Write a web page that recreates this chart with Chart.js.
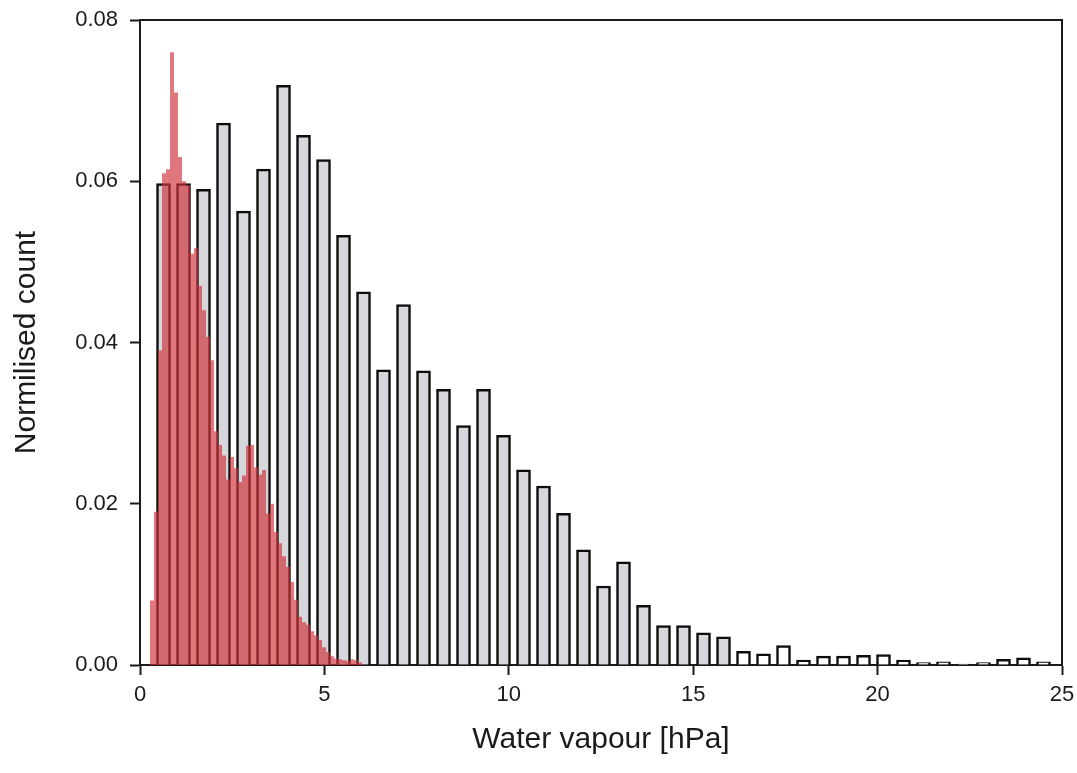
<!DOCTYPE html>
<html>
<head>
<meta charset="utf-8">
<script src="https://cdn.jsdelivr.net/npm/chart.js@4/dist/chart.umd.min.js"></script>
<style>
  body { margin: 0; background: #fff; }
  canvas { display: block; }
</style>
</head>
<body>
<canvas id="hist" width="1077" height="773"></canvas>
<script>
// gray histogram (wide bins)
const grayBinStart = 0.366;   // left edge of first bin [hPa]
const grayBinWidth = 0.5423;
const grayCounts = [
    0.0597, 0.0597, 0.0590, 0.0672, 0.0563, 0.0615, 0.0719, 0.0657, 0.0627, 0.0533,
    0.0463, 0.0366, 0.0447, 0.0365, 0.0342, 0.0297, 0.0342, 0.0285, 0.0242, 0.0222,
    0.0188, 0.0143, 0.0098, 0.0128, 0.0074, 0.0049, 0.0049, 0.0040, 0.0035, 0.0017,
    0.0014, 0.0024, 0.0006, 0.0011, 0.0011, 0.0012, 0.0013, 0.0006, 0.0003, 0.0004,
    0.0001, 0.0003, 0.0007, 0.0009, 0.0004
];

// red histogram (fine bins)
const redBinStart = 0.271;
const redBinWidth = 0.1085;
const redCounts = [
    0.0080, 0.0190, 0.0390, 0.0610, 0.0615, 0.0760, 0.0710, 0.0630, 0.0600, 0.0595,
    0.0510, 0.0517, 0.0470, 0.0440, 0.0407, 0.0378, 0.0290, 0.0273, 0.0260, 0.0230,
    0.0258, 0.0244, 0.0227, 0.0235, 0.0272, 0.0273, 0.0245, 0.0236, 0.0242, 0.0188,
    0.0200, 0.0165, 0.0151, 0.0135, 0.0122, 0.0103, 0.0081, 0.0060, 0.0053, 0.0050,
    0.0042, 0.0037, 0.0031, 0.0022, 0.0016, 0.0011, 0.0008, 0.0007, 0.0006, 0.0005,
    0.0007, 0.0006, 0.0003
];

const xTicks = [0, 5, 10, 15, 20, 25];
const yTicks = [0, 0.02, 0.04, 0.06, 0.08];

const grayPoints = grayCounts.map((y, i) => ({ x: grayBinStart + grayBinWidth * (i + 0.5), y: y }));
// short tail bars come out unfilled in the scan
const grayFill = grayCounts.map((y, i) => i >= 29 ? '#ffffff' : '#d6d6db');

// pad with empty bins so the stepped outline closes at the bin edges
const redPoints = [{ x: redBinStart - redBinWidth / 2, y: 0 }]
    .concat(redCounts.map((y, k) => ({ x: redBinStart + redBinWidth * (k + 0.5), y: y })))
    .concat([{ x: redBinStart + redBinWidth * (redCounts.length + 0.5), y: 0 }]);

const font = 'Liberation Sans, Arial, sans-serif';
const ink = '#1a1a1a';

// keep tick label overhang from shrinking the plot box
function fixX(width, height) {
    return (s) => {
        s.height = height;
        s.paddingLeft = 0;
        s.paddingRight = 0;
    };
}
function fixY(width) {
    return (s) => {
        s.width = width;
        s.paddingTop = 0;
        s.paddingBottom = 0;
    };
}

new Chart(document.getElementById('hist'), {
    type: 'bar',
    data: {
        datasets: [{
            type: 'line',
            label: 'fine',
            data: redPoints,
            stepped: 'middle',
            fill: 'origin',
            backgroundColor: 'rgba(208, 48, 58, 0.66)',
            borderColor: 'transparent',
            borderWidth: 0,
            pointRadius: 0,
            order: 1
        }, {
            type: 'bar',
            label: 'coarse',
            data: grayPoints,
            backgroundColor: grayFill,
            borderColor: '#0d0d0d',
            borderWidth: 2.5,
            barThickness: 14,
            grouped: false,
            order: 2
        }]
    },
    options: {
        responsive: false,
        animation: false,
        layout: { padding: { top: 20, right: 15, left: 0, bottom: 0 } },
        plugins: {
            legend: { display: false },
            tooltip: { enabled: false }
        },
        scales: {
            x: {
                type: 'linear',
                min: 0,
                max: 25,
                offset: false,
                afterFit: fixX(null, 108),
                afterBuildTicks: (s) => { s.ticks = xTicks.map(v => ({ value: v })); },
                ticks: { font: { family: font, size: 22 }, color: ink, padding: 7, maxRotation: 0 },
                grid: { display: true, drawOnChartArea: false, offset: false, tickLength: 10, tickWidth: 2, color: ink },
                border: { display: true, color: ink, width: 2 },
                title: {
                    display: true,
                    text: 'Water vapour [hPa]',
                    font: { family: font, size: 30 },
                    color: ink,
                    padding: { top: 0, bottom: 15 }
                }
            },
            y: {
                min: 0,
                max: 0.08,
                afterFit: fixY(140),
                afterBuildTicks: (s) => { s.ticks = yTicks.map(v => ({ value: v })); },
                ticks: {
                    font: { family: font, size: 22 },
                    color: ink,
                    padding: 12,
                    callback: (v) => v.toFixed(2)
                },
                grid: { display: true, drawOnChartArea: false, tickLength: 10, tickWidth: 2, color: ink },
                border: { display: true, color: ink, width: 2 },
                title: {
                    display: true,
                    text: 'Normilised count',
                    font: { family: font, size: 30 },
                    color: ink,
                    padding: { top: 9, bottom: 0 }
                }
            },
            xTop: {
                type: 'linear',
                position: 'top',
                min: 0,
                max: 25,
                afterFit: fixX(null, 0),
                ticks: { display: false },
                grid: { display: false },
                border: { display: true, color: ink, width: 2 }
            },
            yRight: {
                position: 'right',
                min: 0,
                max: 0.08,
                afterFit: fixY(0),
                ticks: { display: false },
                grid: { display: false },
                border: { display: true, color: ink, width: 2 }
            }
        }
    }
});
</script>
</body>
</html>
